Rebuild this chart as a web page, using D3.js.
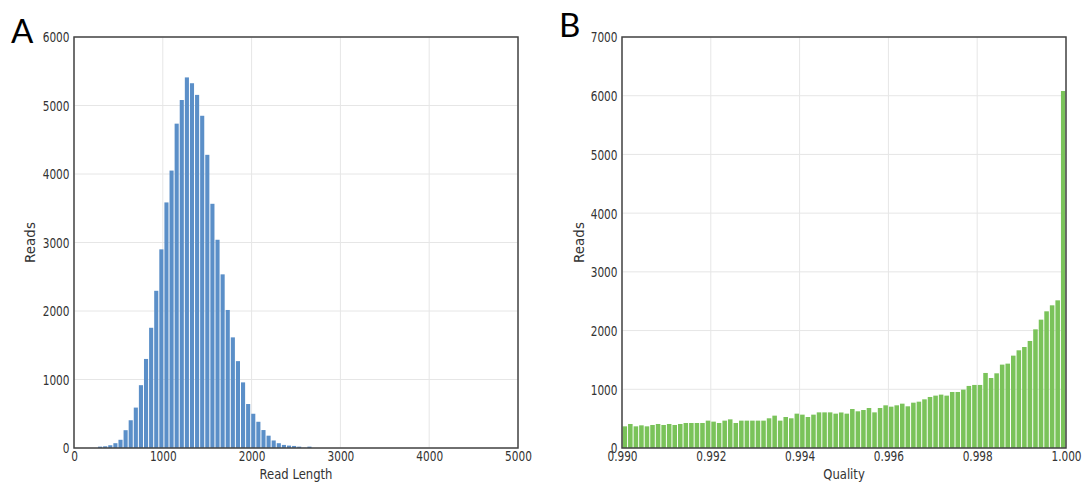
<!DOCTYPE html>
<html>
<head>
<meta charset="utf-8">
<script src="https://cdn.jsdelivr.net/npm/d3@7"></script>
<style>
  html, body { margin: 0; padding: 0; background: #ffffff; }
  svg { display: block; }
</style>
</head>
<body>
<svg id="chart" width="1083" height="482"></svg>
<script>
// ---------------- Panel A: read length histogram ----------------
const lengthBinEdges = [
  265, 322.5, 380, 437.5, 495, 552.5, 610, 667.5, 725, 782.5,
  840, 897.5, 955, 1012.5, 1070, 1127.5, 1185, 1242.5, 1300, 1357.5,
  1415, 1472.5, 1530, 1587.5, 1645, 1702.5, 1760, 1817.5, 1875, 1932.5,
  1990, 2047.5, 2105, 2162.5, 2220, 2277.5, 2335, 2392.5, 2450, 2507.5,
  2565, 2622.5
];
const lengthBinWidth = 57.5;
const lengthCounts = [
  20, 25, 40, 70, 120, 260, 405, 590, 917, 1300,
  1755, 2295, 2900, 3585, 4050, 4735, 5080, 5410, 5325, 5155,
  4850, 4280, 3565, 3040, 2535, 2015, 1615, 1268, 958, 642,
  500, 383, 262, 180, 110, 70, 45, 35, 30, 20,
  3, 20
];
const lengthXTicks = [0, 1000, 2000, 3000, 4000, 5000];
const lengthYTicks = [0, 1000, 2000, 3000, 4000, 5000, 6000];

// ---------------- Panel B: quality histogram ----------------
const qualityBinEdges = [
  0.990, 0.990125, 0.99025, 0.990375, 0.9905, 0.990625, 0.99075, 0.990875,
  0.991, 0.991125, 0.99125, 0.991375, 0.9915, 0.991625, 0.99175, 0.991875,
  0.992, 0.992125, 0.99225, 0.992375, 0.9925, 0.992625, 0.99275, 0.992875,
  0.993, 0.993125, 0.99325, 0.993375, 0.9935, 0.993625, 0.99375, 0.993875,
  0.994, 0.994125, 0.99425, 0.994375, 0.9945, 0.994625, 0.99475, 0.994875,
  0.995, 0.995125, 0.99525, 0.995375, 0.9955, 0.995625, 0.99575, 0.995875,
  0.996, 0.996125, 0.99625, 0.996375, 0.9965, 0.996625, 0.99675, 0.996875,
  0.997, 0.997125, 0.99725, 0.997375, 0.9975, 0.997625, 0.99775, 0.997875,
  0.998, 0.998125, 0.99825, 0.998375, 0.9985, 0.998625, 0.99875, 0.998875,
  0.999, 0.999125, 0.99925, 0.999375, 0.9995, 0.999625, 0.99975, 0.999875
];
const qualityBinWidth = 0.000125;
const qualityCounts = [
  369, 409, 369, 386, 369, 392, 409, 392, 409, 392,
  409, 426, 426, 426, 426, 466, 449, 426, 466, 488,
  426, 466, 466, 466, 466, 466, 506, 551, 466, 528,
  506, 585, 568, 528, 568, 607, 607, 607, 585, 605,
  585, 664, 625, 647, 681, 607, 681, 727, 704, 727,
  755, 710, 772, 789, 829, 869, 892, 909, 892, 954,
  954, 994, 1057, 1074, 1074, 1278, 1192, 1272, 1420, 1437,
  1573, 1664, 1720, 1823, 2021, 2186, 2328, 2430, 2515, 6080
];
const qualityXTicks = [0.990, 0.992, 0.994, 0.996, 0.998, 1.000];
const qualityYTicks = [0, 1000, 2000, 3000, 4000, 5000, 6000, 7000];

// ---------------- drawing ----------------
const svg = d3.select("#chart");
const SX = 0.78;          // horizontal squeeze of the original figure text
const TXT = "#333333";
const FONT = "DejaVu Sans, Verdana, sans-serif";

function drawPanel(p) {
  const x = d3.scaleLinear().domain(p.xDomain).range([p.left, p.right]);
  const y = d3.scaleLinear().domain(p.yDomain).range([p.bottom, p.top]);
  const g = svg.append("g");

  // grid
  g.append("g").selectAll("line").data(p.xTicks).join("line")
    .attr("x1", d => x(d)).attr("x2", d => x(d))
    .attr("y1", p.top).attr("y2", p.bottom)
    .attr("stroke", "#e6e6e6").attr("stroke-width", 1);
  g.append("g").selectAll("line").data(p.yTicks).join("line")
    .attr("x1", p.left).attr("x2", p.right)
    .attr("y1", d => y(d)).attr("y2", d => y(d))
    .attr("stroke", "#e6e6e6").attr("stroke-width", 1);

  // bars
  g.append("g").selectAll("rect").data(p.edges).join("rect")
    .attr("x", d => x(d) + 0.5)
    .attr("width", d => Math.max(0, x(d + p.binWidth) - x(d) - 1))
    .attr("y", (d, i) => y(p.counts[i]))
    .attr("height", (d, i) => y(0) - y(p.counts[i]))
    .attr("fill", p.color);

  // x axis
  const xa = g.append("g").attr("transform", `translate(0,${p.bottom})`)
    .call(d3.axisBottom(x).tickValues(p.xTicks).tickFormat(p.xFormat).tickSize(0).tickPadding(0));
  xa.select(".domain").remove();
  xa.selectAll("text")
    .attr("y", 13.5).attr("dy", 0)
    .attr("transform", `scale(${SX},1)`)
    .attr("font-family", FONT).attr("font-size", 13.5).attr("fill", TXT);

  // y axis
  const ya = g.append("g").attr("transform", `translate(${p.left},0)`)
    .call(d3.axisLeft(y).tickValues(p.yTicks).tickFormat(d3.format("d")).tickSize(0).tickPadding(0));
  ya.select(".domain").remove();
  ya.selectAll("text")
    .attr("x", 0).attr("dy", "0.36em")
    .attr("transform", `translate(-4.5,0) scale(${SX},1)`)
    .attr("text-anchor", "end")
    .attr("font-family", FONT).attr("font-size", 13.5).attr("fill", TXT);

  // frame
  g.append("rect")
    .attr("x", p.left).attr("y", p.top)
    .attr("width", p.right - p.left).attr("height", p.bottom - p.top)
    .attr("fill", "none").attr("stroke", "#444444").attr("stroke-width", 1.5);

  // axis titles
  g.append("text")
    .attr("transform", `translate(${(p.left + p.right) / 2},479) scale(0.83,1)`)
    .attr("text-anchor", "middle")
    .attr("font-family", FONT).attr("font-size", 14).attr("fill", TXT)
    .text(p.xLabel);
  g.append("text")
    .attr("transform", `translate(${p.yLabelX},${(p.top + p.bottom) / 2}) rotate(-90)`)
    .attr("text-anchor", "middle")
    .attr("font-family", FONT).attr("font-size", 13.5).attr("fill", TXT)
    .text(p.yLabel);

  // panel letter
  svg.append("text")
    .attr("x", p.letterX).attr("y", p.letterY)
    .attr("font-family", "Lato, 'Open Sans', sans-serif").attr("font-size", 33)
    .attr("fill", "#000")
    .text(p.letter);
}

drawPanel({
  left: 74, right: 518, top: 37, bottom: 448,
  xDomain: [0, 5000], yDomain: [0, 6000],
  xTicks: lengthXTicks, yTicks: lengthYTicks,
  xFormat: d3.format("d"),
  edges: lengthBinEdges, binWidth: lengthBinWidth, counts: lengthCounts,
  color: "#5b8fc8",
  xLabel: "Read Length", yLabel: "Reads", yLabelX: 35,
  letter: "A", letterX: 11, letterY: 43
});

drawPanel({
  left: 622, right: 1066, top: 37, bottom: 448,
  xDomain: [0.990, 1.000], yDomain: [0, 7000],
  xTicks: qualityXTicks, yTicks: qualityYTicks,
  xFormat: d3.format(".3f"),
  edges: qualityBinEdges, binWidth: qualityBinWidth, counts: qualityCounts,
  color: "#7ac35a",
  xLabel: "Quality", yLabel: "Reads", yLabelX: 584,
  letter: "B", letterX: 559, letterY: 37
});
</script>
</body>
</html>
